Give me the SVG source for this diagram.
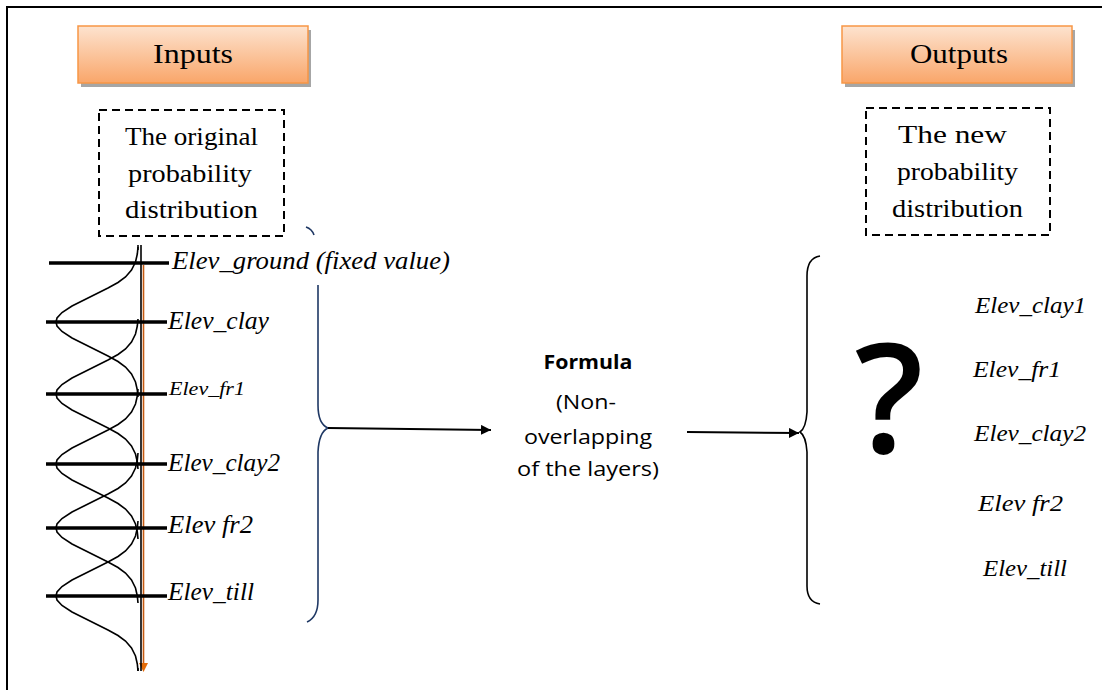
<svg xmlns="http://www.w3.org/2000/svg" xmlns:xlink="http://www.w3.org/1999/xlink" width="1102" height="690" viewBox="0 0 1102 690">
<style>
.serif{font-family:"Liberation Serif","Times New Roman",serif;fill:#000}
.lab{font-family:"Liberation Serif","Times New Roman",serif;font-style:italic;fill:#000}
.sans{font-family:"Open Sans","Liberation Sans",Arial,sans-serif;fill:#000}
.hdr{fill:url(#og);stroke:#f79646;stroke-width:1.5}
.shadow{fill:#a6a6a6}
.dash{fill:#fff;stroke:#000;stroke-width:2;stroke-dasharray:8 5}
.layer{stroke:#000;stroke-width:3.5}
.bell{fill:none;stroke:#000;stroke-width:1.6}
.conn{fill:none;stroke:#000;stroke-width:2}
</style>
<defs>
<linearGradient id="og" x1="0" y1="0" x2="0" y2="1">
<stop offset="0" stop-color="#fde3cf"/>
<stop offset="1" stop-color="#f9a66a"/>
</linearGradient>
<marker id="ah" viewBox="0 0 10 10" refX="10" refY="5" markerWidth="5" markerHeight="5" orient="auto" markerUnits="strokeWidth">
<path d="M0,0 L10,5 L0,10 z" fill="#000"/>
</marker>
<path id="bellp" class="bell" d="M138,-75 L137.3,-68 L135.5,-60 L131.5,-52 L125.5,-45 L118,-39.5 L108,-34 L96,-28 L84,-22 L72,-16 L62,-9.5 L57,-4 L56,0 L57,4 L62,9.5 L72,16 L84,22 L96,28 L108,34 L118,39.5 L125.5,45 L131.5,52 L135.5,60 L137.3,68 L138,75"/>
</defs>
<rect x="0" y="0" width="1102" height="690" fill="#fff"/>
<g id="frame">
<line x1="7" y1="7" x2="1102" y2="7" stroke="#000" stroke-width="2"/>
<line x1="7" y1="6" x2="7" y2="690" stroke="#000" stroke-width="2"/>
</g>
<g id="inputs">
<rect class="shadow" x="81" y="30" width="230" height="57"/>
<rect class="hdr" x="78" y="26" width="230" height="57"/>
<text class="serif" x="193" y="63" font-size="28" text-anchor="middle" textLength="80" lengthAdjust="spacingAndGlyphs">Inputs</text>
</g>
<g id="outputs">
<rect class="shadow" x="845" y="30" width="230" height="57"/>
<rect class="hdr" x="842" y="26" width="230" height="57"/>
<text class="serif" x="959" y="63" font-size="28" text-anchor="middle" textLength="98" lengthAdjust="spacingAndGlyphs">Outputs</text>
</g>
<g id="original-dist">
<rect class="dash" x="99" y="110" width="185" height="126"/>
<text class="serif" x="191.5" y="145" font-size="26" text-anchor="middle" textLength="133" lengthAdjust="spacingAndGlyphs">The original</text>
<text class="serif" x="190" y="182" font-size="26" text-anchor="middle" textLength="124" lengthAdjust="spacingAndGlyphs">probability</text>
<text class="serif" x="191.5" y="218" font-size="26" text-anchor="middle" textLength="133" lengthAdjust="spacingAndGlyphs">distribution</text>
</g>
<g id="new-dist">
<rect class="dash" x="866" y="108" width="184" height="127"/>
<text class="serif" x="952.5" y="143" font-size="26" text-anchor="middle" textLength="109" lengthAdjust="spacingAndGlyphs">The new</text>
<text class="serif" x="957.5" y="180" font-size="26" text-anchor="middle" textLength="121" lengthAdjust="spacingAndGlyphs">probability</text>
<text class="serif" x="957.5" y="217" font-size="26" text-anchor="middle" textLength="131" lengthAdjust="spacingAndGlyphs">distribution</text>
</g>
<g id="distribution-plot">
<use xlink:href="#bellp" href="#bellp" transform="translate(0,322)"/>
<use xlink:href="#bellp" href="#bellp" transform="translate(0,394)"/>
<use xlink:href="#bellp" href="#bellp" transform="translate(0,464)"/>
<use xlink:href="#bellp" href="#bellp" transform="translate(0,528)"/>
<use xlink:href="#bellp" href="#bellp" transform="translate(0,596)"/>
<line x1="138" y1="245" x2="138" y2="250" stroke="#000" stroke-width="1.6"/>
<line x1="138" y1="668" x2="138" y2="671" stroke="#000" stroke-width="1.6"/>
<line x1="143.5" y1="265" x2="143.5" y2="664" stroke="#c55a11" stroke-width="1.6"/>
<path d="M139,663 L148,663 L143.5,672 z" fill="#e36c0a"/>
<line x1="141" y1="245" x2="141" y2="671" stroke="#000" stroke-width="1.6"/>
<line class="layer" x1="49" y1="263" x2="169" y2="263"/>
<line class="layer" x1="46" y1="322" x2="167" y2="322"/>
<line class="layer" x1="46" y1="394" x2="167" y2="394"/>
<line class="layer" x1="46" y1="464" x2="167" y2="464"/>
<line class="layer" x1="46" y1="528" x2="167" y2="528"/>
<line class="layer" x1="46" y1="596" x2="167" y2="596"/>
<text class="lab" x="172" y="269" font-size="25" textLength="278" lengthAdjust="spacingAndGlyphs">Elev_ground (fixed value)</text>
<text class="lab" x="168" y="329" font-size="25" textLength="101" lengthAdjust="spacingAndGlyphs">Elev_clay</text>
<text class="lab" x="169" y="395" font-size="19" textLength="76" lengthAdjust="spacingAndGlyphs">Elev_fr1</text>
<text class="lab" x="168" y="471" font-size="25" textLength="112" lengthAdjust="spacingAndGlyphs">Elev_clay2</text>
<text class="lab" x="168" y="533" font-size="25" textLength="85" lengthAdjust="spacingAndGlyphs">Elev fr2</text>
<text class="lab" x="168" y="600" font-size="25" textLength="86" lengthAdjust="spacingAndGlyphs">Elev_till</text>
</g>
<g id="formula">
<text class="sans" x="588" y="369" font-size="20" font-weight="bold" text-anchor="middle" textLength="89" lengthAdjust="spacingAndGlyphs">Formula</text>
<text class="sans" x="586" y="409" font-size="20" text-anchor="middle" textLength="60" lengthAdjust="spacingAndGlyphs">(Non-</text>
<text class="sans" x="588" y="444" font-size="20" text-anchor="middle" textLength="128" lengthAdjust="spacingAndGlyphs">overlapping</text>
<text class="sans" x="588" y="476" font-size="20" text-anchor="middle" textLength="142" lengthAdjust="spacingAndGlyphs">of the layers)</text>
</g>
<g id="results">
<text class="sans" x="889" y="453" font-size="152" font-weight="600" text-anchor="middle">?</text>
<text class="lab" x="975" y="313" font-size="24" textLength="111" lengthAdjust="spacingAndGlyphs">Elev_clay1</text>
<text class="lab" x="973" y="377" font-size="24" textLength="88" lengthAdjust="spacingAndGlyphs">Elev_fr1</text>
<text class="lab" x="974" y="441" font-size="24" textLength="112" lengthAdjust="spacingAndGlyphs">Elev_clay2</text>
<text class="lab" x="978" y="511" font-size="24" textLength="85" lengthAdjust="spacingAndGlyphs">Elev fr2</text>
<text class="lab" x="983" y="576" font-size="24" textLength="84" lengthAdjust="spacingAndGlyphs">Elev_till</text>
</g>
<g id="connectors">
<path d="M306,227 Q312,229 314,235" fill="none" stroke="#1f3864" stroke-width="1.6"/>
<path d="M318,285 L318,405 Q318,424 328,428 Q319,432 318,452 L318,600 Q318,617 307,622" fill="none" stroke="#1f3864" stroke-width="1.6"/>
<path d="M820,256 Q807,258 807,276 L807,412 Q806,428 800,432 Q806,436 807,452 L807,586 Q807,602 820,604" fill="none" stroke="#000" stroke-width="1.6"/>
<line class="conn" x1="328" y1="428" x2="491" y2="430" marker-end="url(#ah)"/>
<line class="conn" x1="687" y1="432" x2="799" y2="433" marker-end="url(#ah)"/>
</g>
</svg>
